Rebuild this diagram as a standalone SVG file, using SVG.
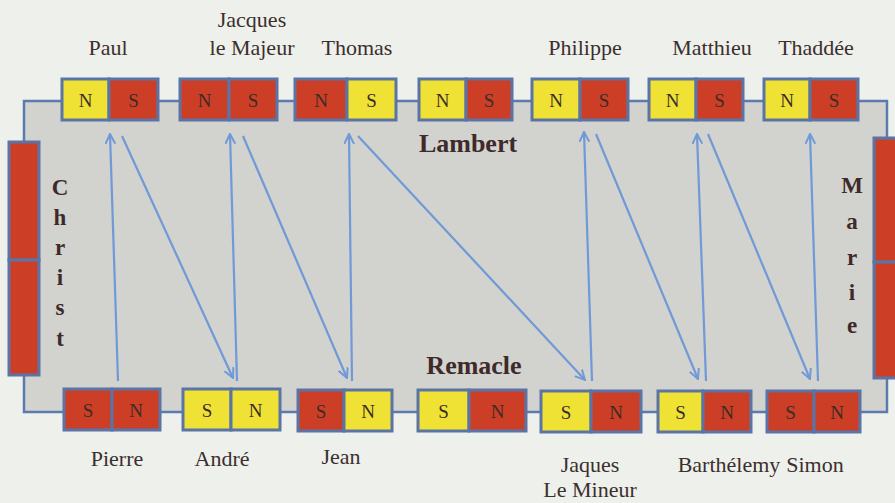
<svg xmlns="http://www.w3.org/2000/svg" width="895" height="503" viewBox="0 0 895 503">
<defs>
<style>
.bg{fill:#eef0ec}
.frame{fill:#d2d2ce;stroke:#5b7bb0;stroke-width:2.5}
.y{fill:#efe235;stroke:#5b74a6;stroke-width:3}
.r{fill:#cc3f26;stroke:#5b74a6;stroke-width:3}
.pole{font-family:"Liberation Serif","Times New Roman",serif;font-size:19px;fill:#3a2c28;text-anchor:middle}
.name{font-family:"Liberation Serif","Times New Roman",serif;font-size:22px;fill:#3b2f2d;text-anchor:middle}
.big{font-family:"Liberation Serif","Times New Roman",serif;font-size:26px;font-weight:bold;fill:#3e2a2a;text-anchor:middle}
.vert{font-family:"Liberation Serif","Times New Roman",serif;font-size:23px;font-weight:bold;fill:#3e2a2a;text-anchor:middle}
.arr{stroke:#7099d8;stroke-width:2.2;fill:none;marker-end:url(#ah)}
</style>
<marker id="ah" viewBox="0 0 10 10" refX="9" refY="5" markerWidth="11" markerHeight="11" orient="auto" markerUnits="userSpaceOnUse">
<path d="M0,0.5 L9,5 L0,9.5" fill="none" stroke="#7099d8" stroke-width="1.8"/>
</marker>
</defs>
<rect class="bg" x="0" y="0" width="895" height="503"/>
<rect class="frame" x="24" y="101" width="863" height="311"/>

<g id="christ">
<rect class="r" x="9" y="142" width="30" height="118"/>
<rect class="r" x="9" y="260" width="30" height="115"/>
<text class="vert" x="60" y="195">C</text>
<text class="vert" x="60" y="225">h</text>
<text class="vert" x="60" y="255">r</text>
<text class="vert" x="60" y="285">i</text>
<text class="vert" x="60" y="315">s</text>
<text class="vert" x="60" y="346">t</text>
</g>
<g id="marie">
<rect class="r" x="874" y="138" width="26" height="124"/>
<rect class="r" x="874" y="262" width="26" height="116"/>
<text class="vert" x="852" y="193">M</text>
<text class="vert" x="852" y="229">a</text>
<text class="vert" x="852" y="265">r</text>
<text class="vert" x="852" y="300">i</text>
<text class="vert" x="852" y="333">e</text>
</g>

<g id="lambert"><text class="big" x="468" y="152">Lambert</text></g>
<g id="remacle"><text class="big" x="474" y="374">Remacle</text></g>

<g id="connectors">
<line class="arr" x1="118" y1="381" x2="110" y2="134"/>
<line class="arr" x1="122" y1="136" x2="233" y2="378"/>
<line class="arr" x1="237" y1="381" x2="230" y2="134"/>
<line class="arr" x1="243" y1="136" x2="347" y2="378"/>
<line class="arr" x1="352" y1="381" x2="349" y2="134"/>
<line class="arr" x1="358" y1="136" x2="585" y2="380"/>
<line class="arr" x1="592" y1="381" x2="584" y2="132"/>
<line class="arr" x1="596" y1="134" x2="698" y2="379"/>
<line class="arr" x1="706" y1="381" x2="697" y2="134"/>
<line class="arr" x1="708" y1="134" x2="810" y2="379"/>
<line class="arr" x1="818" y1="381" x2="810" y2="134"/>
</g>

<g id="paul">
<rect class="y" x="62" y="79" width="47" height="41"/><rect class="r" x="109" y="79" width="49" height="41"/>
<text class="pole" x="85.5" y="107">N</text><text class="pole" x="133.5" y="107">S</text>
<text class="name" x="108" y="55">Paul</text>
</g>
<g id="jacques-le-majeur">
<rect class="r" x="180" y="79" width="49" height="41"/><rect class="r" x="229" y="79" width="48" height="41"/>
<text class="pole" x="204.5" y="107">N</text><text class="pole" x="253" y="107">S</text>
<text class="name" x="252" y="27">Jacques</text>
<text class="name" x="252" y="55">le Majeur</text>
</g>
<g id="thomas">
<rect class="r" x="295" y="79" width="52" height="41"/><rect class="y" x="347" y="79" width="49" height="41"/>
<text class="pole" x="321" y="107">N</text><text class="pole" x="371.5" y="107">S</text>
<text class="name" x="357" y="55">Thomas</text>
</g>
<g id="top4">
<rect class="y" x="419" y="79" width="47" height="41"/><rect class="r" x="466" y="79" width="46" height="41"/>
<text class="pole" x="442.5" y="107">N</text><text class="pole" x="489" y="107">S</text>
</g>
<g id="philippe">
<rect class="y" x="532" y="79" width="48" height="41"/><rect class="r" x="580" y="79" width="48" height="41"/>
<text class="pole" x="556" y="107">N</text><text class="pole" x="604" y="107">S</text>
<text class="name" x="585" y="55">Philippe</text>
</g>
<g id="matthieu">
<rect class="y" x="649" y="79" width="47" height="41"/><rect class="r" x="696" y="79" width="47" height="41"/>
<text class="pole" x="672.5" y="107">N</text><text class="pole" x="719.5" y="107">S</text>
<text class="name" x="712" y="55">Matthieu</text>
</g>
<g id="thaddee">
<rect class="y" x="764" y="79" width="46" height="41"/><rect class="r" x="810" y="79" width="48" height="41"/>
<text class="pole" x="787" y="107">N</text><text class="pole" x="834" y="107">S</text>
<text class="name" x="816" y="55">Thaddée</text>
</g>

<g id="pierre">
<rect class="r" x="64" y="389" width="48" height="41"/><rect class="r" x="112" y="389" width="48" height="41"/>
<text class="pole" x="88" y="417">S</text><text class="pole" x="136" y="417">N</text>
<text class="name" x="117" y="466">Pierre</text>
</g>
<g id="andre">
<rect class="y" x="183" y="389" width="48" height="41"/><rect class="y" x="231" y="389" width="49" height="41"/>
<text class="pole" x="207" y="417">S</text><text class="pole" x="255.5" y="417">N</text>
<text class="name" x="222" y="466">André</text>
</g>
<g id="jean">
<rect class="r" x="298" y="390" width="46" height="41"/><rect class="y" x="344" y="390" width="48" height="41"/>
<text class="pole" x="321" y="418">S</text><text class="pole" x="368" y="418">N</text>
<text class="name" x="341" y="464">Jean</text>
</g>
<g id="bottom4">
<rect class="y" x="418" y="390" width="51" height="41"/><rect class="r" x="469" y="390" width="57" height="41"/>
<text class="pole" x="443.5" y="418">S</text><text class="pole" x="497.5" y="418">N</text>
</g>
<g id="jaques-le-mineur">
<rect class="y" x="541" y="391" width="50" height="41"/><rect class="r" x="591" y="391" width="50" height="41"/>
<text class="pole" x="566" y="419">S</text><text class="pole" x="616" y="419">N</text>
<text class="name" x="590" y="472">Jaques</text>
<text class="name" x="590" y="497">Le Mineur</text>
</g>
<g id="barthelemy">
<rect class="y" x="658" y="391" width="45" height="41"/><rect class="r" x="703" y="391" width="48" height="41"/>
<text class="pole" x="680.5" y="419">S</text><text class="pole" x="727" y="419">N</text>
<text class="name" x="729" y="472">Barthélemy</text>
</g>
<g id="simon">
<rect class="r" x="767" y="391" width="47" height="41"/><rect class="r" x="814" y="391" width="46" height="41"/>
<text class="pole" x="790.5" y="419">S</text><text class="pole" x="837" y="419">N</text>
<text class="name" x="815" y="472">Simon</text>
</g>
</svg>
